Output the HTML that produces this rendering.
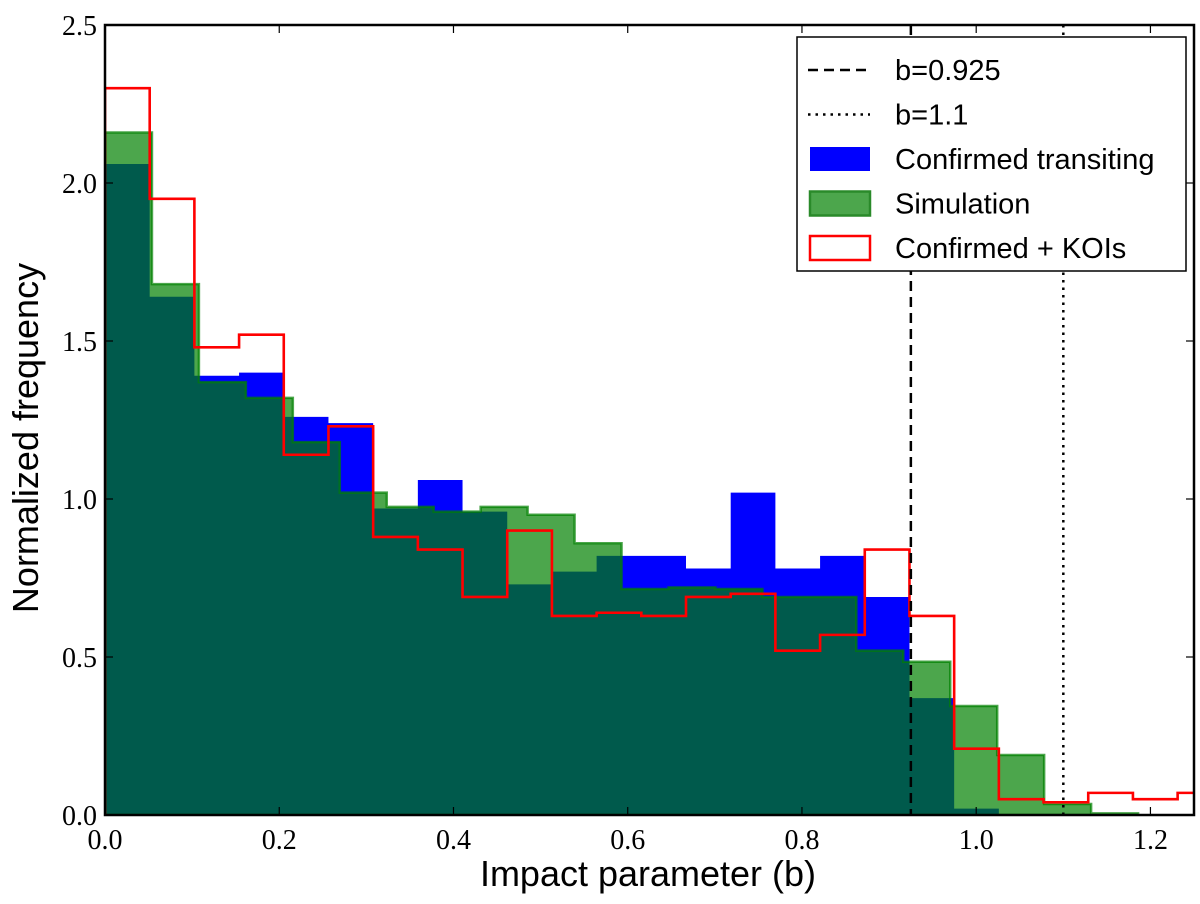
<!DOCTYPE html>
<html><head><meta charset="utf-8"><style>
body{margin:0;background:#fff;}
svg{display:block;}
text{font-family:"Liberation Serif",serif;}
.sans{font-family:"Liberation Sans",sans-serif;}
</style></head><body>
<svg id="chart" width="1200" height="904" xmlns="http://www.w3.org/2000/svg"></svg>
<script>
const blueWidth = 0.0513;
const blueValues = [2.06,1.64,1.39,1.40,1.26,1.24,0.97,1.06,0.96,0.73,0.77,0.82,0.82,0.78,1.02,0.78,0.82,0.69,0.37,0.02];
const greenWidth = 0.0539;
const greenValues = [2.16,1.68,1.37,1.32,1.18,1.02,0.975,0.96,0.975,0.95,0.86,0.715,0.72,0.715,0.69,0.69,0.52,0.485,0.345,0.19,0.035,0.005];
const redWidth = 0.0513;
const redValues = [2.30,1.95,1.48,1.52,1.14,1.23,0.88,0.84,0.69,0.90,0.63,0.64,0.63,0.69,0.70,0.52,0.57,0.84,0.63,0.21,0.05,0.04,0.07,0.05,0.07];
const xTicks = [0.0,0.2,0.4,0.6,0.8,1.0,1.2];
const yTicks = [0.0,0.5,1.0,1.5,2.0,2.5];
const vlines = [0.925,1.1];

const NS="http://www.w3.org/2000/svg";
const svg=document.getElementById('chart');
const L=105,R=1194,T=25,B=815;
const X=v=>L+v/1.25*(R-L);
const Y=v=>B-v/2.5*(B-T);
function mk(tag,attrs,parent){const e=document.createElementNS(NS,tag);for(const k in attrs)e.setAttribute(k,attrs[k]);(parent||svg).appendChild(e);return e;}
function stepPath(vals,w){let d='M'+X(0)+','+B;vals.forEach((v,i)=>{d+=' L'+X(i*w)+','+Y(v)+' L'+X((i+1)*w)+','+Y(v);});d+=' L'+X(vals.length*w)+','+B+' Z';return d;}

const defs=mk('defs',{});
const cp=mk('clipPath',{id:'clip'},defs);
mk('rect',{x:L,y:T,width:R-L,height:B-T},cp);
const plot=mk('g',{'clip-path':'url(#clip)'});

const bp=mk('path',{d:stepPath(blueValues,blueWidth),fill:'#0000ff'},plot);



const gp=mk('path',{d:stepPath(greenValues,greenWidth),fill:'rgb(0,128,0)','fill-opacity':0.7,stroke:'rgb(0,128,0)','stroke-opacity':0.7,'stroke-width':2.5},plot);



let rd='M'+X(0)+','+B;
redValues.forEach((v,i)=>{rd+=' L'+X(i*redWidth)+','+Y(v)+' L'+X((i+1)*redWidth)+','+Y(v);});
rd+=' L'+X(redValues.length*redWidth)+','+B;
const rp=mk('path',{d:rd,fill:'none',stroke:'#ff0000','stroke-width':2.6},plot);



vlines.forEach((v,i)=>{
  const l=mk('line',{x1:X(v),x2:X(v),y1:T,y2:B,stroke:'#000','stroke-width':2.5,'stroke-dasharray':i===0?'10,6':'2.5,5'},plot);
  
  
});

const frame=mk('rect',{x:L,y:T,width:R-L,height:B-T,fill:'none',stroke:'#000','stroke-width':2.5});



xTicks.forEach(v=>{
  mk('line',{x1:X(v),x2:X(v),y1:B,y2:B-8,stroke:'#000','stroke-width':1.2});
  mk('line',{x1:X(v),x2:X(v),y1:T,y2:T+8,stroke:'#000','stroke-width':1.2});
  const t=mk('text',{x:X(v),y:B+34,'text-anchor':'middle','font-size':28});
  t.textContent=v.toFixed(1);
  
  
});
yTicks.forEach(v=>{
  mk('line',{x1:L,x2:L+8,y1:Y(v),y2:Y(v),stroke:'#000','stroke-width':1.2});
  mk('line',{x1:R,x2:R-8,y1:Y(v),y2:Y(v),stroke:'#000','stroke-width':1.2});
  const t=mk('text',{x:L-8,y:Y(v)+10,'text-anchor':'end','font-size':28});
  t.textContent=v.toFixed(1);
  
  
});

const xl=mk('text',{x:648,y:886,'text-anchor':'middle','font-size':36,class:'sans'});
xl.textContent='Impact parameter (b)';


const yl=mk('text',{x:0,y:0,'text-anchor':'middle','font-size':36,class:'sans',transform:'translate(38,438) rotate(-90)'});
yl.textContent='Normalized frequency';



const lg=mk('g',{});


mk('rect',{x:797,y:37,width:389,height:234,fill:'#fff',stroke:'#000','stroke-width':1.5},lg);
const entries=[
 {label:'b=0.925',type:'dash'},{label:'b=1.1',type:'dot'},
 {label:'Confirmed transiting',type:'blue'},{label:'Simulation',type:'green'},{label:'Confirmed + KOIs',type:'red'}];
entries.forEach((e,i)=>{
  const cy=70+i*44.5;
  const g=mk('g',{},lg);
  
  
  if(e.type==='dash') mk('line',{x1:808,x2:870,y1:cy,y2:cy,stroke:'#000','stroke-width':2.5,'stroke-dasharray':'10,6'},g);
  else if(e.type==='dot') mk('line',{x1:808,x2:870,y1:cy,y2:cy,stroke:'#000','stroke-width':2.5,'stroke-dasharray':'2.5,5'},g);
  else if(e.type==='blue') mk('rect',{x:810,y:cy-12,width:60,height:24,fill:'#0000ff'},g);
  else if(e.type==='green') mk('rect',{x:810,y:cy-12,width:60,height:24,fill:'#4ca64c',stroke:'#2a8a2a','stroke-width':2.5},g);
  else mk('rect',{x:810,y:cy-12,width:60,height:24,fill:'#fff',stroke:'#ff0000','stroke-width':2.5},g);
  const t=mk('text',{x:895,y:cy+10,'font-size':29,class:'sans'},g);
  t.textContent=e.label;
});
</script>
</body></html>
